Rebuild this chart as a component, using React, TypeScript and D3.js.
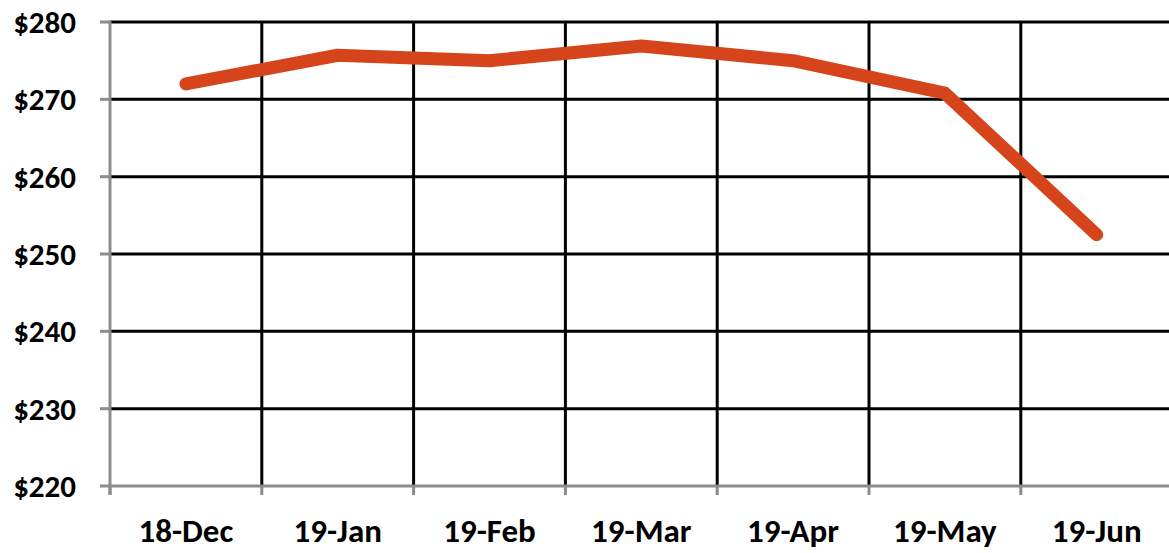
import React, { useEffect, useRef } from "react";
import * as d3 from "d3";

// Chart data
const months = ["18-Dec", "19-Jan", "19-Feb", "19-Mar", "19-Apr", "19-May", "19-Jun"];
const prices = [272.0, 275.7, 275.0, 276.9, 275.0, 270.8, 252.5];
const yTicks = [220, 230, 240, 250, 260, 270, 280];

export default function App() {
  const ref = useRef<SVGSVGElement | null>(null);

  const drawChart = () => {
    const svgWidth = 1169;
    const left = 110;
    const top = 22;
    const bottom = 486;
    const bandW = 151.8;

    const svg = d3.select(ref.current);
    svg.selectAll("*").remove();

    const x = d3
      .scaleBand()
      .domain(months)
      .range([left, left + bandW * months.length])
      .padding(0);

    const y = d3.scaleLinear().domain([220, 280]).range([bottom, top]);

    const font = "Calibri, Carlito, Lato, 'Open Sans', sans-serif";

    // horizontal gridlines
    svg
      .append("g")
      .selectAll("line")
      .data(yTicks.filter((d) => d !== 220))
      .enter()
      .append("line")
      .attr("x1", left)
      .attr("x2", svgWidth)
      .attr("y1", (d) => y(d))
      .attr("y2", (d) => y(d))
      .attr("stroke", "#000")
      .attr("stroke-width", 3);

    // vertical gridlines at category boundaries
    svg
      .append("g")
      .selectAll("line")
      .data(months.slice(1))
      .enter()
      .append("line")
      .attr("x1", (d) => x(d)!)
      .attr("x2", (d) => x(d)!)
      .attr("y1", top)
      .attr("y2", bottom)
      .attr("stroke", "#000")
      .attr("stroke-width", 3);

    // y axis
    const yAxis = svg.append("g");
    yAxis
      .append("line")
      .attr("x1", left)
      .attr("x2", left)
      .attr("y1", top - 1.5)
      .attr("y2", bottom + 9)
      .attr("stroke", "#8c8c8c")
      .attr("stroke-width", 3);
    yAxis
      .selectAll(".tick")
      .data(yTicks)
      .enter()
      .append("line")
      .attr("x1", left - 10)
      .attr("x2", left)
      .attr("y1", (d) => y(d))
      .attr("y2", (d) => y(d))
      .attr("stroke", "#8c8c8c")
      .attr("stroke-width", 3);
    yAxis
      .selectAll("text")
      .data(yTicks)
      .enter()
      .append("text")
      .attr("x", 76)
      .attr("y", (d) => y(d))
      .attr("dy", "0.36em")
      .attr("text-anchor", "end")
      .attr("font-family", font)
      .attr("font-weight", "bold")
      .attr("font-size", 31)
      .attr("fill", "#000")
      .text((d) => "$" + d);

    // x axis
    const xAxis = svg.append("g");
    xAxis
      .append("line")
      .attr("x1", left)
      .attr("x2", svgWidth)
      .attr("y1", bottom)
      .attr("y2", bottom)
      .attr("stroke", "#8c8c8c")
      .attr("stroke-width", 3);
    xAxis
      .selectAll(".tick")
      .data(months)
      .enter()
      .append("line")
      .attr("x1", (d) => x(d)!)
      .attr("x2", (d) => x(d)!)
      .attr("y1", bottom)
      .attr("y2", bottom + 9)
      .attr("stroke", "#8c8c8c")
      .attr("stroke-width", 3);
    xAxis
      .selectAll("text")
      .data(months)
      .enter()
      .append("text")
      .attr("x", (d) => x(d)! + x.bandwidth() / 2)
      .attr("y", 542)
      .attr("text-anchor", "middle")
      .attr("font-family", font)
      .attr("font-weight", "bold")
      .attr("font-size", 33)
      .attr("fill", "#000")
      .text((d) => d);

    // price line
    const line = d3
      .line<number>()
      .x((_, i) => x(months[i])! + x.bandwidth() / 2)
      .y((d) => y(d));

    svg
      .append("path")
      .datum(prices)
      .attr("d", line)
      .attr("fill", "none")
      .attr("stroke", "#d5441b")
      .attr("stroke-width", 13)
      .attr("stroke-linecap", "round")
      .attr("stroke-linejoin", "round");
  };

  useEffect(() => {
    drawChart();
  }, []);

  return (
    <svg
      ref={ref}
      width={1169}
      height={553}
      style={{ position: "absolute", left: 0, top: 0, background: "#fff" }}
    />
  );
}
